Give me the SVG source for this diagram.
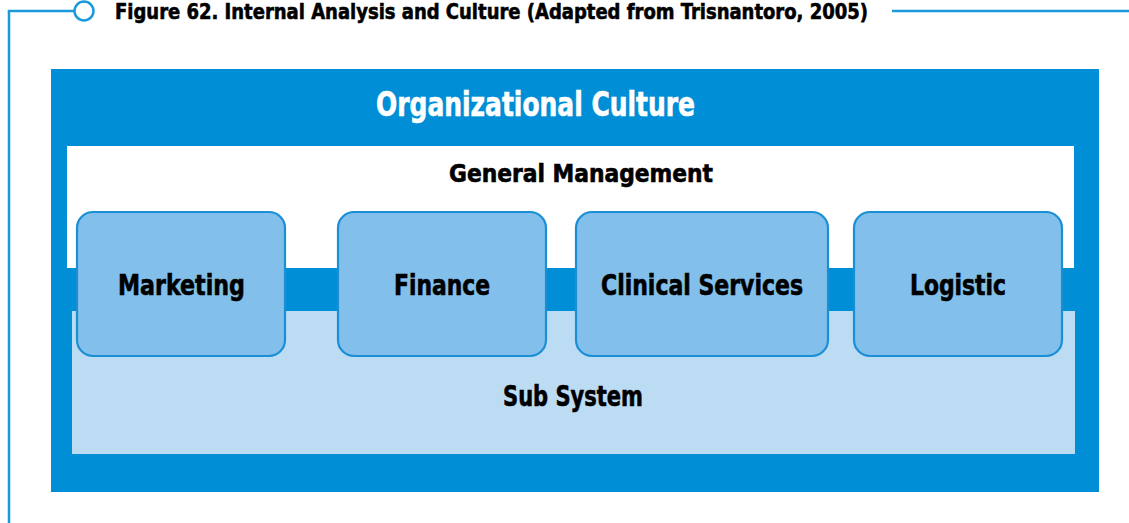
<svg xmlns="http://www.w3.org/2000/svg" width="1129" height="523" viewBox="0 0 1129 523">
  <style>
    .t { font-family: "DejaVu Sans Condensed", "Liberation Sans", sans-serif; font-weight: bold; fill: #000; stroke: #000; stroke-width: 0.6; }
    .w { fill: #fff; stroke: #fff; }
    .box { fill: #82BFEA; stroke: #1A8FD6; stroke-width: 2.2; }
    .frame { stroke: #1B9ADB; stroke-width: 2.5; fill: none; }
  </style>
  <rect width="1129" height="523" fill="#fff"/>
  <g id="title-frame">
    <line class="frame" x1="9" y1="11" x2="9" y2="523"/>
    <line class="frame" x1="7.8" y1="11" x2="74" y2="11"/>
    <circle class="frame" cx="84" cy="11" r="9.5" fill="#fff"/>
    <line class="frame" x1="892" y1="11" x2="1129" y2="11"/>
    <text class="t" x="115" y="18.5" font-size="22" textLength="753" lengthAdjust="spacingAndGlyphs">Figure 62. Internal Analysis and Culture (Adapted from Trisnantoro, 2005)</text>
  </g>
  <g id="organizational-culture">
    <rect x="51" y="69" width="1048" height="423" fill="#008FD6"/>
    <text class="t w" x="376" y="116" font-size="33" textLength="319" lengthAdjust="spacingAndGlyphs">Organizational Culture</text>
  </g>
  <g id="general-management">
    <rect x="67" y="146" width="1007" height="122" fill="#fff"/>
    <text class="t" x="449" y="182" font-size="25" textLength="264" lengthAdjust="spacingAndGlyphs">General Management</text>
  </g>
  <g id="sub-system">
    <rect x="72" y="311" width="1003" height="143" fill="#BCDCF3"/>
    <text class="t" x="503" y="406" font-size="28" textLength="140" lengthAdjust="spacingAndGlyphs">Sub System</text>
  </g>
  <g id="marketing">
    <rect class="box" x="77" y="212" width="208" height="144" rx="16"/>
    <text class="t" x="118" y="295" font-size="28" textLength="127" lengthAdjust="spacingAndGlyphs">Marketing</text>
  </g>
  <g id="finance">
    <rect class="box" x="338" y="212" width="208" height="144" rx="16"/>
    <text class="t" x="394" y="295" font-size="28" textLength="96" lengthAdjust="spacingAndGlyphs">Finance</text>
  </g>
  <g id="clinical-services">
    <rect class="box" x="576" y="212" width="252" height="144" rx="16"/>
    <text class="t" x="601" y="295" font-size="28" textLength="202" lengthAdjust="spacingAndGlyphs">Clinical Services</text>
  </g>
  <g id="logistic">
    <rect class="box" x="854" y="212" width="208" height="144" rx="16"/>
    <text class="t" x="910" y="295" font-size="28" textLength="96" lengthAdjust="spacingAndGlyphs">Logistic</text>
  </g>
</svg>
